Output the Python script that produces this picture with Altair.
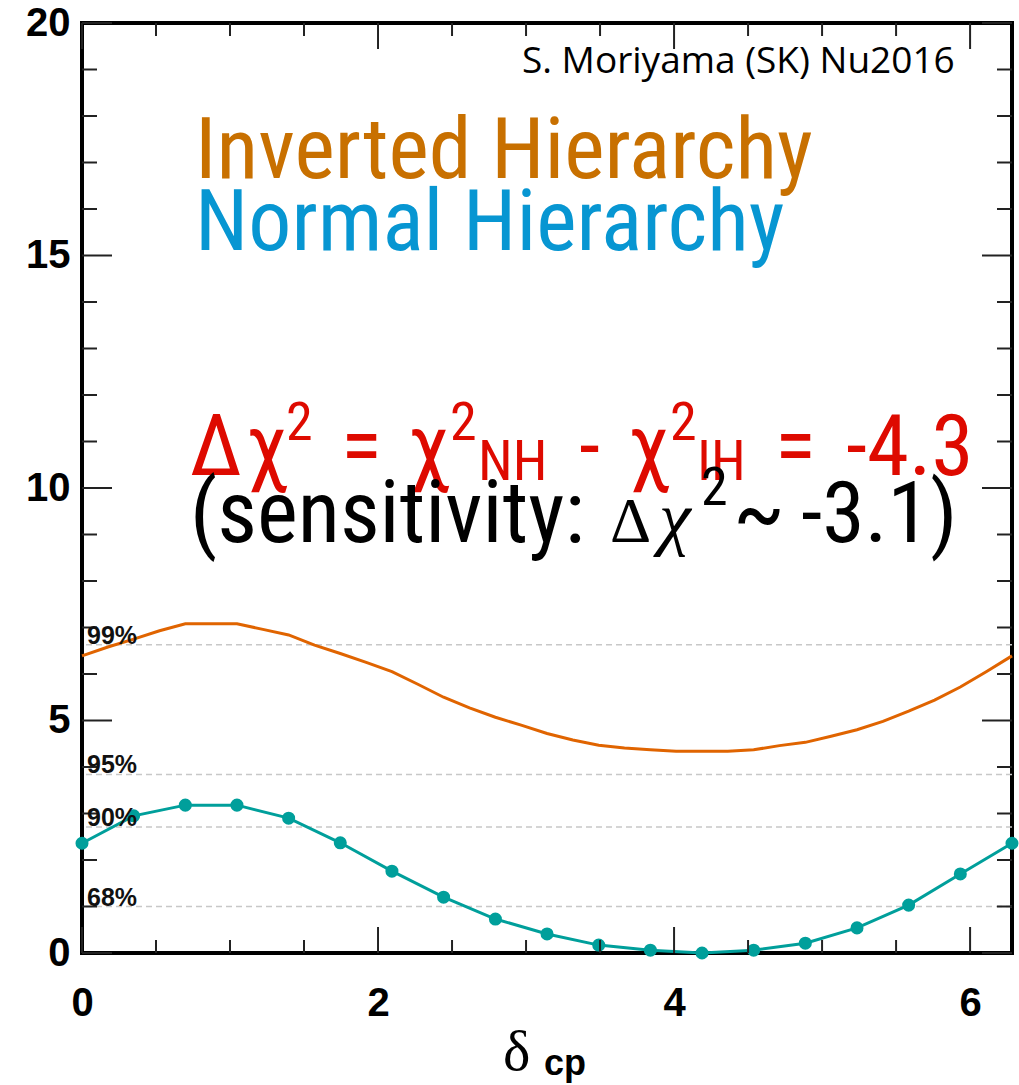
import altair as alt
import pandas as pd

# ---------------- data ----------------
nh_delta = [0.000, 0.349, 0.698, 1.047, 1.396, 1.745, 2.094, 2.443, 2.793, 3.142,
            3.491, 3.840, 4.189, 4.538, 4.887, 5.236, 5.585, 5.934, 6.283]
nh_chi2 = [2.36, 2.95, 3.18, 3.18, 2.90, 2.37, 1.76, 1.20, 0.73, 0.41,
           0.17, 0.06, 0.00, 0.06, 0.21, 0.54, 1.03, 1.70, 2.36]

ih_delta = [0.000, 0.175, 0.349, 0.524, 0.698, 0.873, 1.047, 1.222, 1.396, 1.571,
            1.745, 1.920, 2.094, 2.269, 2.443, 2.618, 2.793, 2.967, 3.142, 3.316,
            3.491, 3.665, 3.840, 4.014, 4.189, 4.363, 4.538, 4.712, 4.887, 5.061,
            5.236, 5.411, 5.585, 5.760, 5.934, 6.109, 6.283]
ih_chi2 = [6.39, 6.58, 6.75, 6.93, 7.08, 7.08, 7.08, 6.96, 6.84, 6.62,
           6.44, 6.25, 6.05, 5.78, 5.50, 5.27, 5.07, 4.90, 4.72, 4.58,
           4.47, 4.41, 4.37, 4.34, 4.34, 4.34, 4.37, 4.46, 4.53, 4.66,
           4.80, 4.98, 5.20, 5.44, 5.72, 6.05, 6.39]

cl_values = [6.63, 3.84, 2.71, 1.00]
cl_labels = ["99%", "95%", "90%", "68%"]

x_major = [0, 2, 4, 6]
x_minor = [0.5, 1, 1.5, 2.5, 3, 3.5, 4.5, 5, 5.5]
y_major = [0, 5, 10, 15, 20]
y_minor = [1, 2, 3, 4, 6, 7, 8, 9, 11, 12, 13, 14, 16, 17, 18, 19]

# ---------------- styling ----------------
W = 930
H = 930
XMAX = 6.2832
SANS = "Liberation Sans, Arial, sans-serif"
NARROW = "Roboto Condensed, Liberation Sans, sans-serif"
SERIF = "Liberation Serif, serif"
ORANGE_LINE = "#E06400"
TEAL = "#009F9B"
IH_TEXT = "#C87000"
NH_TEXT = "#0796D2"
RED = "#DE0A00"

xs = alt.Scale(domain=[0, XMAX], nice=False, zero=False)
ys = alt.Scale(domain=[0, 20], nice=False, zero=False)

nh = pd.DataFrame({"d": nh_delta, "c": nh_chi2})
ih = pd.DataFrame({"d": ih_delta, "c": ih_chi2})
cl = pd.DataFrame({"v": cl_values, "lab": cl_labels})

x_axis = alt.Axis(values=x_major, title=None, ticks=False, domain=False, grid=False,
                  labelFont=SANS, labelFontSize=40, labelFontWeight="bold", labelColor="black",
                  labelPadding=30, labelFlush=False, labelOverlap=False)
y_axis = alt.Axis(values=y_major, title=None, ticks=False, domain=False, grid=False,
                  labelFont=SANS, labelFontSize=40, labelFontWeight="bold", labelColor="black",
                  labelPadding=12, labelFlush=False, labelOverlap=False, labelBaseline="middle")


def X(field):
    return alt.X(field, scale=xs, axis=x_axis)


def Y(field):
    return alt.Y(field, scale=ys, axis=y_axis)


# dashed confidence-level lines
grid = alt.Chart(cl).mark_rule(color="#c8c8c8", strokeWidth=1.6, strokeDash=[6, 4]).encode(
    y=Y("v:Q")
)

ih_line = alt.Chart(ih).mark_line(color=ORANGE_LINE, strokeWidth=3).encode(x=X("d:Q"), y=Y("c:Q"))
nh_line = alt.Chart(nh).mark_line(color=TEAL, strokeWidth=3).encode(x=X("d:Q"), y=Y("c:Q"))
nh_pts = alt.Chart(nh).mark_circle(color=TEAL, size=170, opacity=1).encode(x=X("d:Q"), y=Y("c:Q"))

cl_text = alt.Chart(cl).mark_text(align="left", baseline="alphabetic", font=SANS, fontSize=25,
                                  fontWeight="bold", color="#111111", dy=-1).encode(
    x=alt.value(5), y=Y("v:Q"), text="lab:N")


def yticks(vals, length):
    df = pd.DataFrame({"v": vals})
    left = alt.Chart(df).mark_rule(color="#222222", strokeWidth=2).encode(
        y=Y("v:Q"), x=alt.value(0), x2=alt.value(length))
    right = alt.Chart(df).mark_rule(color="#222222", strokeWidth=2).encode(
        y=Y("v:Q"), x=alt.value(W), x2=alt.value(W - length))
    return [left, right]


def xticks(vals, length):
    df = pd.DataFrame({"v": vals})
    bottom = alt.Chart(df).mark_rule(color="#222222", strokeWidth=2).encode(
        x=X("v:Q"), y=alt.value(H), y2=alt.value(H - length))
    top = alt.Chart(df).mark_rule(color="#222222", strokeWidth=2).encode(
        x=X("v:Q"), y=alt.value(0), y2=alt.value(length))
    return [bottom, top]


def label(text, x, y, size, color, font=NARROW, weight="normal", style="normal"):
    return alt.Chart(pd.DataFrame({"t": [text]})).mark_text(
        align="left", baseline="alphabetic", fontSize=size, color=color, font=font,
        fontWeight=weight, fontStyle=style
    ).encode(x=alt.value(x), y=alt.value(y), text="t:N")


# annotation text (positions relative to the plot area)
RB = 452   # red line baseline
RS = 417   # red superscript baseline
RN = 457   # red subscript baseline
BB = 519   # black line baseline
BS = 482   # black superscript baseline

notes = [
    label("S. Moriyama (SK) Nu2016", 440, 50, 37, "black", font="Open Sans"),
    label("Inverted Hierarchy", 113, 155, 86, IH_TEXT),
    label("Normal Hierarchy", 113, 227, 86, NH_TEXT),
    # red line
    label("\u0394", 108, RB, 85, RED),
    label("\u03c7", 164, RB, 85, RED),
    label("2", 204, RS, 54, RED),
    label("=", 259, RB, 85, RED),
    label("\u03c7", 326, RB, 85, RED),
    label("2", 368, RS, 54, RED),
    label("NH", 396, RN, 56, RED),
    label("-", 497, RB, 85, RED),
    label("\u03c7", 546, RB, 85, RED),
    label("2", 588, RS, 54, RED),
    label("IH", 615, RN, 56, RED),
    label("=", 693, RB, 85, RED),
    label("-4.3", 764, RB, 85, RED),
    # black line
    label("(sensitivity:", 108, BB, 87, "black"),
    label("\u0394", 528, BB, 64, "black", font=SERIF),
    label("\u03c7", 577, BB, 72, "black", font=SERIF, style="italic"),
    label("2", 619, BS, 54, "black"),
    label("~", 651, BB, 88, "black"),
    label("-3.1)", 719, BB, 86, "black"),
    # x-axis title
    label("\u03b4", 421, 1047, 58, "black", font=SERIF),
    label("cp", 462, 1052, 36, "black", font=SANS, weight="bold"),
]

layers = [grid, ih_line, nh_line, nh_pts]
layers += yticks(y_minor, 15) + yticks(y_major, 30)
layers += xticks(x_minor, 13) + xticks(x_major, 26)
layers += [cl_text] + notes

chart = alt.layer(*layers).properties(
    width=W,
    height=H,
    padding={"left": 82, "top": 23, "right": 7, "bottom": 132},
    autosize=alt.AutoSizeParams(type="none"),
    background="white",
).configure_view(stroke="black", strokeWidth=4)

chart.save("out.html", embed_options={"renderer": "svg", "actions": False})
